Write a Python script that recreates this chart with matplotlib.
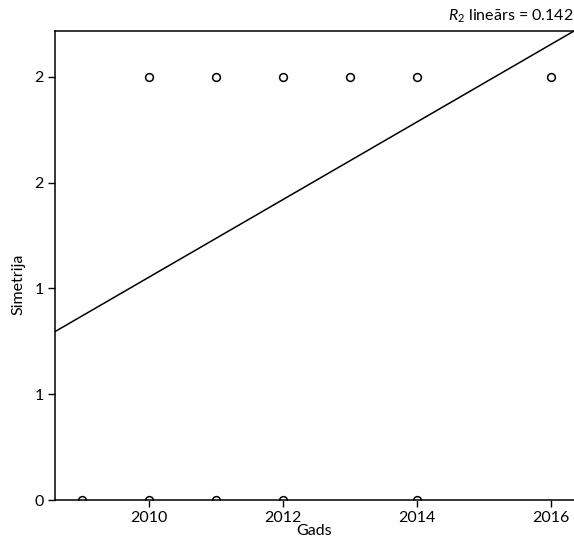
import matplotlib
matplotlib.use("Agg")
import matplotlib.pyplot as plt

plt.rcParams['font.family'] = ['Lato', 'DejaVu Sans']
plt.rcParams['mathtext.fontset'] = 'custom'
plt.rcParams['mathtext.rm'] = 'Lato'
plt.rcParams['mathtext.it'] = 'Lato:italic'

# Observations: year vs. symmetry score
years_top = [2010, 2011, 2012, 2013, 2014, 2016]
sym_top = [2, 2, 2, 2, 2, 2]
years_bottom = [2009, 2010, 2011, 2012, 2014]
sym_bottom = [0, 0, 0, 0, 0]

# Linear fit line (end points) and its R squared
fit_years = [2008.6, 2016.34]
fit_sym = [0.796, 2.217]
r2_linear = 0.142

x_ticks = [2010, 2012, 2014, 2016]
y_ticks = [0, 0.5, 1.0, 1.5, 2.0]
y_tick_labels = ['0', '1', '1', '2', '2']

fig = plt.figure(figsize=(5.74, 5.40), dpi=100)
ax = fig.add_axes([55 / 574, 40 / 540, 1 - 55 / 574, 469 / 540])

ax.plot(fit_years, fit_sym, color='black', linewidth=1.1)
ax.plot(years_top, sym_top, linestyle='none', marker='o', markersize=5.6,
        markerfacecolor='white', markeredgecolor='black', markeredgewidth=1.1)
ax.plot(years_bottom, sym_bottom, linestyle='none', marker='o', markersize=5.6,
        markerfacecolor='white', markeredgecolor='black', markeredgewidth=1.1)

ax.set_xlim(2008.6, 2016.34)
ax.set_ylim(0, 2.217)
ax.set_xticks(x_ticks)
ax.set_yticks(y_ticks)
ax.set_yticklabels(y_tick_labels)
ax.tick_params(direction='out', length=5, width=1, labelsize=11.5, pad=3)

for side in ['left', 'bottom', 'top']:
    ax.spines[side].set_linewidth(1.1)
ax.spines['right'].set_visible(False)

ax.set_xlabel('Gads', fontsize=11.5, labelpad=-1)
ax.set_ylabel('Simetrija', fontsize=11.5)
ax.yaxis.set_label_coords(-0.056, 0.46)

fig.text(0.999, 1 - 21 / 540, r'$\mathit{R}_{2}$' + f' lineārs = {r2_linear:.3f}',
         ha='right', va='baseline', fontsize=11.5)

fig.savefig('out.png', dpi=100)
